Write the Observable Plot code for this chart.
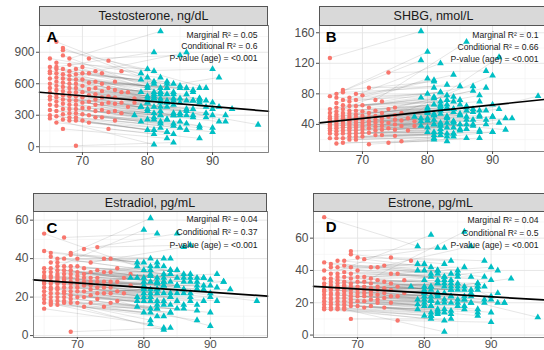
<!DOCTYPE html>
<html><head><meta charset="utf-8">
<script src="https://cdn.jsdelivr.net/npm/d3@7"></script>
<script src="https://cdn.jsdelivr.net/npm/@observablehq/plot@0.6"></script>
<style>
body{margin:0;background:#fff;}
#chart{position:relative;width:544px;height:350px;overflow:hidden;font-family:"Liberation Sans",Arial,sans-serif;background:#fff;}
.panel{position:absolute;}
.strip{position:absolute;box-sizing:border-box;background:#d9d9d9;border:1px solid #555;display:flex;align-items:center;justify-content:center;font-size:12.5px;color:#1a1a1a;white-space:nowrap;}
</style></head><body><div id="chart"></div>
<script>
// ---- data: one entry per subject, grouped by baseline age (one line per group) ----
const age0 = [
  65,65,65,65,65,65,65,65,65,65,65,65,65,65,
  66,66,66,66,66,66,66,66,66,66,66,66,66,66,66,66,
  67,67,67,67,67,67,67,67,67,67,67,67,67,67,67,67,
  68,68,68,68,68,68,68,68,68,68,68,68,68,68,68,
  69,69,69,69,69,69,69,69,69,69,69,69,69,69,
  70,70,70,70,70,70,70,70,70,70,
  71,71,71,71,71,71,71,71,71,
  72,72,72,72,72,72,72,72,
  73,73,73,73,73,73,73,
  74,74,74,74,74,74,
  75,75,75,75,75,75,
  76,76,76,76,
  77,77,
  78,78];
const age1 = [
  79,79,79,80,80,80,80,78,79,80,81,79,80,81,
  80,80,81,81,81,80,82,81,80,81,82,79,80,81,82,81,
  81,81,82,82,81,83,82,81,82,80,83,81,82,82,81,83,
  82,82,83,82,83,84,82,83,81,84,82,83,82,84,83,
  83,83,84,83,84,82,85,83,84,83,84,85,83,84,
  84,84,85,84,85,86,84,85,86,84,
  85,85,86,86,85,87,86,85,86,
  86,87,86,87,88,86,87,88,
  87,88,87,88,89,87,88,
  89,88,88,90,89,88,
  89,90,89,90,91,90,
  90,91,92,90,
  91,93,
  92,97];
const testo0 = [
  840,760,720,700,650,600,560,520,480,450,400,350,300,270,
  1000,800,760,740,700,660,620,580,540,500,470,430,390,340,290,230,
  940,920,870,740,690,650,610,570,530,490,450,410,360,310,260,170,
  840,780,720,680,640,600,560,520,480,440,400,360,320,280,250,
  740,690,640,600,560,520,480,440,400,360,320,280,250,10,
  760,700,640,580,520,470,420,370,310,250,
  840,700,610,550,490,430,370,300,230,
  720,620,560,500,450,400,340,280,
  700,600,530,470,410,350,280,
  820,560,480,420,330,170,
  620,540,470,410,340,250,
  720,520,420,320,
  520,380,
  460,420];
const testo1 = [
  700,520,640,460,560,420,480,300,380,420,260,240,160,20,
  660,740,900,600,520,580,440,500,360,460,300,380,260,320,180,120,
  620,720,520,660,480,560,420,380,500,340,420,280,300,240,160,80,
  1100,520,600,560,440,500,380,420,460,300,340,260,220,200,140,
  560,620,460,500,400,460,320,380,300,260,220,180,140,40,
  600,520,560,440,460,360,320,300,220,120,
  870,580,560,440,420,360,300,240,160,
  900,540,500,440,460,340,280,200,
  520,560,440,420,320,300,180,
  560,460,440,360,280,80,
  440,420,380,300,240,140,
  740,380,300,180,
  660,360,
  240,210];
const shbg0 = [
  127,77,60,55,50,48,45,42,40,38,35,32,28,22,
  80,75,68,62,57,53,50,47,44,41,38,35,31,27,22,15,
  85,82,72,65,60,55,51,48,45,42,39,36,32,28,22,16,
  75,70,64,58,54,50,47,44,41,38,35,32,28,24,20,
  80,72,64,58,53,49,45,42,39,36,32,28,24,20,
  78,65,57,51,46,42,38,34,29,24,
  88,62,55,49,44,40,35,29,14,
  72,58,51,46,42,37,32,26,
  70,55,48,43,38,33,26,
  108,60,50,42,35,16,
  62,52,46,40,33,25,
  55,45,38,18,
  48,32,
  44,38];
const shbg1 = [
  162,124,75,100,62,55,58,50,48,45,40,38,30,22,
  135,80,98,74,66,60,64,52,56,46,42,44,36,30,26,20,
  96,88,82,70,76,62,58,54,60,48,50,40,38,34,26,18,
  120,82,72,66,60,56,54,48,52,42,40,36,30,28,24,
  92,78,70,66,60,62,52,50,44,42,36,32,28,24,
  105,76,66,60,54,50,44,40,34,28,
  90,72,64,58,52,46,40,34,22,
  148,84,62,56,50,46,38,32,
  90,78,60,52,46,40,30,
  110,70,58,50,40,22,
  88,66,58,50,42,30,
  104,60,48,30,
  128,48,
  33,77];
const estradiol0 = [
  53,44,35,33,31,30,28,27,25,23,21,19,17,14,
  43,41,38,35,33,31,30,28,27,25,24,22,20,18,17,16,
  40,38,36,34,32,31,30,29,28,27,25,24,22,20,18,16,
  51,40,36,34,32,30,29,28,27,25,23,22,20,18,17,
  43,42,36,34,32,30,28,27,25,23,21,19,17,2,
  40,36,33,31,29,27,25,23,20,17,
  45,35,32,30,28,26,23,20,15,
  38,33,30,28,26,24,21,17,
  46,34,30,28,25,22,19,
  40,33,28,25,22,15,
  40,33,28,25,22,17,
  35,28,23,18,
  30,22,
  32,26];
const estradiol1 = [
  36,38,30,55,26,28,22,30,20,18,24,15,12,6,
  38,34,61,28,31,25,36,22,30,20,27,18,24,14,10,12,
  34,40,30,28,36,26,24,32,22,20,28,18,16,14,8,4,
  53,38,32,28,30,34,24,26,20,22,18,16,14,12,3,
  36,40,32,28,34,24,26,22,20,18,16,14,10,4,
  40,32,30,28,26,24,20,22,16,12,
  53,34,30,32,26,22,24,18,14,
  46,30,28,32,24,22,18,13,
  47,30,28,24,26,20,16,
  30,28,26,22,18,8,
  30,26,24,20,18,12,
  29,25,28,5,
  32,24,
  28,18];
const estrone0 = [
  73,45,40,35,32,30,28,27,25,23,21,19,17,16,
  44,42,38,35,33,31,29,28,26,25,23,22,20,19,17,16,
  46,42,38,36,34,32,30,29,28,26,25,23,21,19,17,16,
  46,43,39,36,33,31,30,28,27,25,23,21,19,17,16,
  52,50,42,38,35,32,30,28,26,24,22,20,18,10,
  48,40,36,33,30,28,26,24,21,18,
  47,36,33,30,28,26,24,21,17,
  42,35,32,29,27,25,22,18,
  42,34,30,28,25,22,20,
  43,33,29,26,23,17,
  48,38,32,28,24,20,
  38,30,24,9,
  34,26,
  46,30];
const estrone1 = [
  55,40,44,30,34,26,24,30,22,20,18,16,12,10,
  40,44,62,38,30,28,32,24,27,21,25,19,18,14,13,12,
  42,36,40,32,28,34,26,30,24,22,20,18,16,15,12,9,
  54,38,36,40,30,28,26,32,22,24,20,16,14,13,2,
  54,44,38,36,32,34,28,26,24,22,20,18,14,10,
  46,34,38,30,32,24,28,22,18,15,
  40,36,64,28,30,24,22,20,16,
  42,36,30,26,32,22,20,14,
  55,32,28,30,22,20,16,
  36,30,28,22,20,12,
  46,34,30,24,20,14,
  42,26,20,8,
  40,35,
  20,11];

// fitted lines (value at the left and right edge of the age range)
const fitAge = [63.4, 98.6];
const testoFit = [519, 338];
const shbgFit = [42.1, 73.2];
const estradiolFit = [29, 20.5];
const estroneFit = [30.2, 21.6];

// axis ticks
const xTicks = [70, 80, 90];
const xMinor = [65, 75, 85, 95];
const xDomain = [63.4, 98.6];

const titles = ["Testosterone, ng/dL", "SHBG, nmol/L", "Estradiol, pg/mL", "Estrone, pg/mL"];
const letters = ["A", "B", "C", "D"];
const marginalR2 = ["0.05", "0.1", "0.04", "0.04"];
const conditionalR2 = ["0.6", "0.66", "0.37", "0.5"];
const pValues = ["<0.001", "<0.001", "<0.001", "<0.001"];

const panels = [
  {v0: testo0, v1: testo1, fit: testoFit, yDomain: [-55, 1155], yTicks: [0, 300, 600, 900], yMinor: [150, 450, 750, 1050]},
  {v0: shbg0, v1: shbg1, fit: shbgFit, yDomain: [4.5, 169.5], yTicks: [40, 80, 120, 160], yMinor: [20, 60, 100, 140]},
  {v0: estradiol0, v1: estradiol1, fit: estradiolFit, yDomain: [-1, 64.5], yTicks: [0, 20, 40, 60], yMinor: [10, 30, 50]},
  {v0: estrone0, v1: estrone1, fit: estroneFit, yDomain: [-1.5, 76.5], yTicks: [0, 20, 40, 60], yMinor: [10, 30, 50, 70]}
];

// layout (positions in px)
const layout = [
  {left: 0, top: 0, width: 272, ml: 39, mr: 4, mt: 25, mb: 23, stripTop: 6, ts: 3, tp: 1, xfs: 12, ldx: 7, ldy: 11.2, sdx: -11, sdy: [10, 21, 32.5]},
  {left: 272, top: 0, width: 276, ml: 47, mr: 0, mt: 25, mb: 24, stripTop: 6, ts: 3, tp: 1, xfs: 12, ldx: 6.3, ldy: 11.7, sdx: -10, sdy: [9.3, 21.7, 34]},
  {left: 0, top: 175, width: 272, ml: 33, mr: 5, mt: 36, mb: 13, stripTop: 18, ts: 2, tp: 0, xfs: 11.5, ldx: 13, ldy: 16.5, sdx: -10, sdy: [8, 21, 34]},
  {left: 272, top: 175, width: 276, ml: 41, mr: 0, mt: 36, mb: 13, stripTop: 18, ts: 2, tp: 0, xfs: 11.5, ldx: 12.3, ldy: 15.7, sdx: -10, sdy: [9, 21.3, 34]}
];

const chart = document.getElementById("chart");
const subjects = d3.range(age0.length);

panels.forEach((p, k) => {
  const L = layout[k];
  const data = subjects.map(i => ({a0: age0[i], a1: age1[i], v0: p.v0[i], v1: p.v1[i]}));
  const fit = fitAge.map((a, i) => ({a, v: p.fit[i]}));
  const stats = [
    `Marginal R\u00b2 = ${marginalR2[k]}`,
    `Conditional R\u00b2 = ${conditionalR2[k]}`,
    `P-value (age) = ${pValues[k]}`
  ];
  const svg = Plot.plot({
    width: L.width, height: 175,
    marginLeft: L.ml, marginRight: L.mr, marginTop: L.mt, marginBottom: L.mb,
    style: {fontFamily: "'Liberation Sans', Arial, sans-serif", background: "transparent", overflow: "visible", maxWidth: "none"},
    x: {domain: xDomain, label: null},
    y: {domain: p.yDomain, label: null},
    marks: [
      Plot.ruleX(xMinor, {stroke: "#f2f2f2", strokeWidth: 0.6}),
      Plot.ruleY(p.yMinor, {stroke: "#f2f2f2", strokeWidth: 0.6}),
      Plot.ruleX(xTicks, {stroke: "#e4e4e4", strokeWidth: 0.9}),
      Plot.ruleY(p.yTicks, {stroke: "#e4e4e4", strokeWidth: 0.9}),
      Plot.link(data, {x1: "a0", y1: "v0", x2: "a1", y2: "v1", stroke: "#555", strokeOpacity: 0.3, strokeWidth: 0.5}),
      Plot.dot(data, {x: "a0", y: "v0", r: 2.2, fill: "#F8766D", stroke: null}),
      Plot.dot(data, {x: "a1", y: "v1", r: 2.5, symbol: "triangle", fill: "#00BFC4", stroke: null}),
      Plot.line(fit, {x: "a", y: "v", stroke: "black", strokeWidth: 1.7}),
      Plot.frame({stroke: "#666", strokeWidth: 0.8}),
      Plot.axisX(xTicks, {tickSize: L.ts, tickPadding: L.tp, fontSize: L.xfs, color: "#4d4d4d", label: null}),
      Plot.axisY(p.yTicks, {tickSize: 3, tickPadding: 2, fontSize: 12, color: "#4d4d4d", label: null}),
      Plot.text([letters[k]], {frameAnchor: "top-left", dx: L.ldx, dy: L.ldy, lineAnchor: "middle", textAnchor: "start", fontWeight: "bold", fontSize: 15, fill: "black"}),
      ...stats.map((s, j) => Plot.text([s], {frameAnchor: "top-right", dx: L.sdx, dy: L.sdy[j], lineAnchor: "middle", textAnchor: "end", fontSize: 8.6, fill: "#1a1a1a"}))
    ]
  });
  const wrap = document.createElement("div");
  wrap.className = "panel";
  wrap.style.left = L.left + "px";
  wrap.style.top = L.top + "px";
  wrap.style.width = L.width + "px";
  wrap.appendChild(svg);
  chart.appendChild(wrap);

  const strip = document.createElement("div");
  strip.className = "strip";
  strip.style.left = (L.left + L.ml) + "px";
  strip.style.top = (L.top + L.stripTop) + "px";
  strip.style.width = (L.width - L.ml - L.mr) + "px";
  strip.style.height = (L.mt - L.stripTop + 1) + "px";
  strip.textContent = titles[k];
  chart.appendChild(strip);
});
</script></body></html>
